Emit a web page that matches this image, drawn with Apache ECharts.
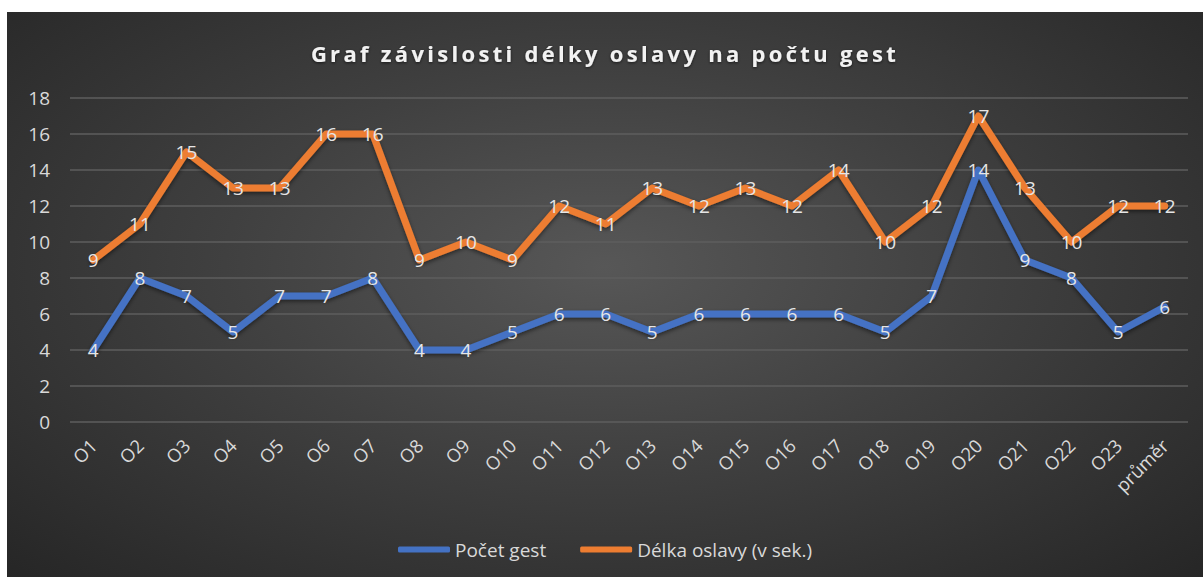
<!DOCTYPE html>
<html>
<head>
<meta charset="utf-8">
<script src="https://cdn.jsdelivr.net/npm/echarts@6/dist/echarts.min.js"></script>
<style>
  html, body { margin: 0; padding: 0; background: #fff; }
  .wrap { position: relative; width: 1203px; height: 577px; background: #fff; overflow: hidden; }
  #chart {
    position: absolute; left: 7px; top: 12px; width: 1196px; height: 565px;
    background: radial-gradient(ellipse at 50% 45%, #575757 0%, #404040 45%, #262626 100%);
  }
</style>
</head>
<body>
<div class="wrap"><div id="chart"></div></div>
<script>
  // kategorie na ose x
  var categories = ['O1', 'O2', 'O3', 'O4', 'O5', 'O6', 'O7', 'O8', 'O9', 'O10', 'O11', 'O12',
    'O13', 'O14', 'O15', 'O16', 'O17', 'O18', 'O19', 'O20', 'O21', 'O22', 'O23', 'průměr'];
  var pocetGest = [4, 8, 7, 5, 7, 7, 8, 4, 4, 5, 6, 6, 5, 6, 6, 6, 6, 5, 7, 14, 9, 8, 5, 6.4];
  var delkaOslavy = [9, 11, 15, 13, 13, 16, 16, 9, 10, 9, 12, 11, 13, 12, 13, 12, 14, 10, 12, 17, 13, 10, 12, 12];
  var yTicks = [0, 2, 4, 6, 8, 10, 12, 14, 16, 18];

  var titleText = 'Graf závislosti délky oslavy na počtu gest';
  var font = '"Open Sans", "Noto Sans", sans-serif';
  var txt = '#d9d9d9';

  function lineSeries(name, data, color) {
    return {
      name: name,
      type: 'line',
      data: data,
      symbol: 'circle',
      symbolSize: 1,
      itemStyle: { color: color },
      lineStyle: {
        color: color, width: 7, cap: 'round', join: 'round',
        shadowColor: 'rgba(0,0,0,0.5)', shadowBlur: 4, shadowOffsetY: 2
      },
      label: {
        show: true,
        position: 'inside',
        color: '#e6e6e6',
        fontFamily: font,
        fontSize: 19,
        formatter: function (p) { return Math.round(p.value); }
      },
      emphasis: { disabled: true },
      animation: false
    };
  }

  var chart = echarts.init(document.getElementById('chart'), null, { renderer: 'svg' });
  var option = {
    backgroundColor: 'transparent',
    title: {
      text: titleText,
      left: 'center',
      top: 25,
      textStyle: {
        color: '#f2f2f2', fontFamily: font, fontWeight: 'bold', fontSize: 22,
        textShadowColor: 'rgba(0,0,0,0.6)', textShadowBlur: 3, textShadowOffsetY: 1
      }
    },
    legend: {
      bottom: 13,
      left: 'center',
      icon: 'roundRect',
      itemWidth: 52,
      itemHeight: 6,
      itemGap: 34,
      textStyle: { color: txt, fontFamily: font, fontSize: 19 },
      data: ['Počet gest', 'Délka oslavy (v sek.)']
    },
    grid: { left: 63, right: 15, top: 86, bottom: 155 },
    xAxis: {
      type: 'category',
      data: categories,
      axisLine: { show: false },
      axisTick: { show: false },
      axisLabel: { color: txt, fontFamily: font, fontSize: 18.5, rotate: 45, margin: 20, interval: 0 }
    },
    yAxis: {
      type: 'value',
      min: yTicks[0],
      max: yTicks[yTicks.length - 1],
      interval: 2,
      axisLine: { show: false },
      axisTick: { show: false },
      splitLine: { lineStyle: { color: '#5e5e5e', width: 1.5 } },
      axisLabel: { color: txt, fontFamily: font, fontSize: 19, margin: 20 }
    },
    series: [
      lineSeries('Počet gest', pocetGest, '#4472C4'),
      lineSeries('Délka oslavy (v sek.)', delkaOslavy, '#ED7D31')
    ]
  };
  chart.setOption(option);

  // proklad pismen v nadpisu (ECharts to samo neumi)
  var texts = document.querySelectorAll('#chart svg text');
  for (var i = 0; i < texts.length; i++) {
    if (texts[i].textContent === titleText) {
      texts[i].style.letterSpacing = '3.3px';
    }
  }
</script>
</body>
</html>
